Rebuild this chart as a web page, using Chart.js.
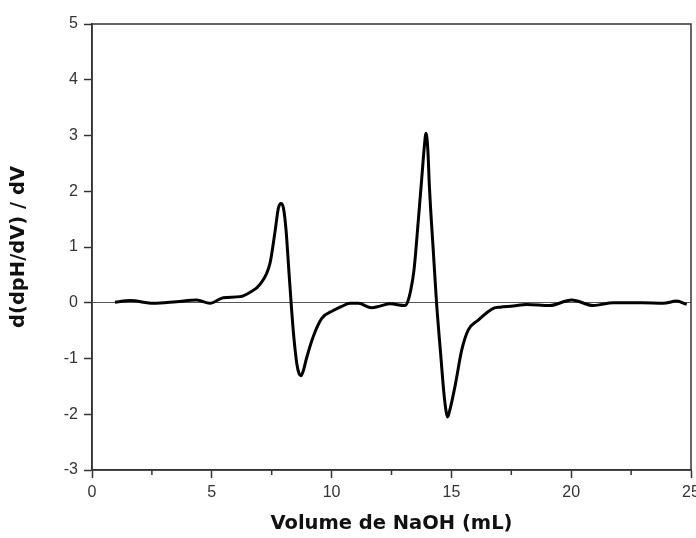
<!DOCTYPE html>
<html>
<head>
<meta charset="utf-8">
<script src="https://cdn.jsdelivr.net/npm/chart.js@4/dist/chart.umd.min.js"></script>
<style>
  html, body { margin: 0; padding: 0; background: #fff; }
  canvas { display: block; }
</style>
</head>
<body>
<canvas id="chart" width="696" height="538"></canvas>
<script>
// volume of NaOH added (mL)
const volumes = [
  0.96, 1.6, 2.56, 3.53, 4.37, 4.92, 5.48, 6.18, 6.6, 7.01,
  7.43, 7.64, 7.78, 7.89, 7.99, 8.1, 8.2, 8.31, 8.42, 8.55,
  8.64, 8.72, 8.82, 8.95, 9.24, 9.59, 10.07, 10.4, 10.77, 11.12,
  11.67, 12.02, 12.44, 13.06, 13.16, 13.3, 13.44, 13.62, 13.79, 13.86,
  13.94, 14.02, 14.08, 14.25, 14.38, 14.55, 14.7, 14.78, 14.84, 14.92,
  15.15, 15.43, 15.7, 16.12, 16.75, 17.03, 17.58, 18.14, 19.1, 20.02,
  20.92, 21.76, 22.97, 23.84, 24.4, 24.82
];
// second derivative d(dpH/dV)/dV
const derivative = [
  0.01, 0.04, -0.01, 0.02, 0.05, -0.01, 0.09, 0.11, 0.19, 0.33,
  0.71, 1.28, 1.7, 1.78, 1.7, 1.3, 0.68, 0.0, -0.6, -1.1,
  -1.27, -1.31, -1.22, -1.0, -0.6, -0.28, -0.14, -0.07, -0.01, -0.01,
  -0.09, -0.06, -0.02, -0.05, 0.0, 0.22, 0.59, 1.48, 2.38, 2.75,
  3.04, 2.72, 2.1, 0.89, 0.0, -0.91, -1.68, -1.95, -2.05, -1.95,
  -1.5, -0.85, -0.49, -0.31, -0.1, -0.08, -0.06, -0.03, -0.05, 0.05,
  -0.05, 0.0, 0.0, -0.01, 0.03, -0.03
];
const xMinorTicks = [2.5, 7.5, 12.5, 17.5, 22.5];

const axisColor = '#333';

// frame around plot area + minor ticks on the x axis
const framePlugin = {
  id: 'frame',
  afterDraw(chart) {
    const { ctx, chartArea: a, scales } = chart;
    ctx.save();
    ctx.strokeStyle = axisColor;
    ctx.lineWidth = 1.5;
    ctx.strokeRect(a.left, a.top, a.right - a.left, a.bottom - a.top);
    ctx.beginPath();
    xMinorTicks.forEach(v => {
      const px = scales.x.getPixelForValue(v);
      ctx.moveTo(px, a.bottom);
      ctx.lineTo(px, a.bottom + 5);
    });
    ctx.stroke();
    ctx.restore();
  }
};

new Chart(document.getElementById('chart').getContext('2d'), {
  type: 'line',
  data: {
    datasets: [{
      data: volumes.map((v, i) => ({ x: v, y: derivative[i] })),
      borderColor: '#000',
      borderWidth: 3,
      pointRadius: 0,
      cubicInterpolationMode: 'monotone',
      fill: false
    }]
  },
  options: {
    responsive: false,
    animation: false,
    layout: { padding: { top: 24, right: 5, left: 0, bottom: 0 } },
    plugins: { legend: { display: false }, tooltip: { enabled: false } },
    scales: {
      x: {
        type: 'linear',
        min: 0,
        max: 25,
        afterFit: s => { s.height = 68; s.paddingLeft = 0; s.paddingRight = 0; },
        ticks: {
          stepSize: 5,
          color: '#333',
          padding: 5,
          font: { family: 'Liberation Sans', size: 16 }
        },
        grid: { drawOnChartArea: false, tickLength: 8, tickColor: axisColor, tickWidth: 1.5 },
        border: { color: axisColor, width: 1.5 },
        title: {
          display: true,
          text: 'Volume de NaOH (mL)',
          color: '#111',
          padding: { top: 0, bottom: 2 },
          font: { family: 'DejaVu Sans', size: 19.5, weight: 'bold' }
        }
      },
      y: {
        min: -3,
        max: 5,
        afterFit: s => { s.width = 92; s.paddingTop = 0; s.paddingBottom = 0; },
        ticks: {
          stepSize: 1,
          color: '#333',
          padding: 6,
          font: { family: 'Liberation Sans', size: 16 }
        },
        grid: {
          color: c => (c.tick && c.tick.value === 0 ? '#555' : 'rgba(0,0,0,0)'),
          lineWidth: 1,
          tickLength: 8,
          tickColor: axisColor,
          tickWidth: 1.5
        },
        border: { color: axisColor, width: 1.5 },
        title: {
          display: true,
          text: 'd(dpH/dV) / dV',
          color: '#111',
          padding: { top: 7, bottom: 0 },
          font: { family: 'DejaVu Sans', size: 19.5, weight: 'bold' }
        }
      }
    }
  },
  plugins: [framePlugin]
});
</script>
</body>
</html>
